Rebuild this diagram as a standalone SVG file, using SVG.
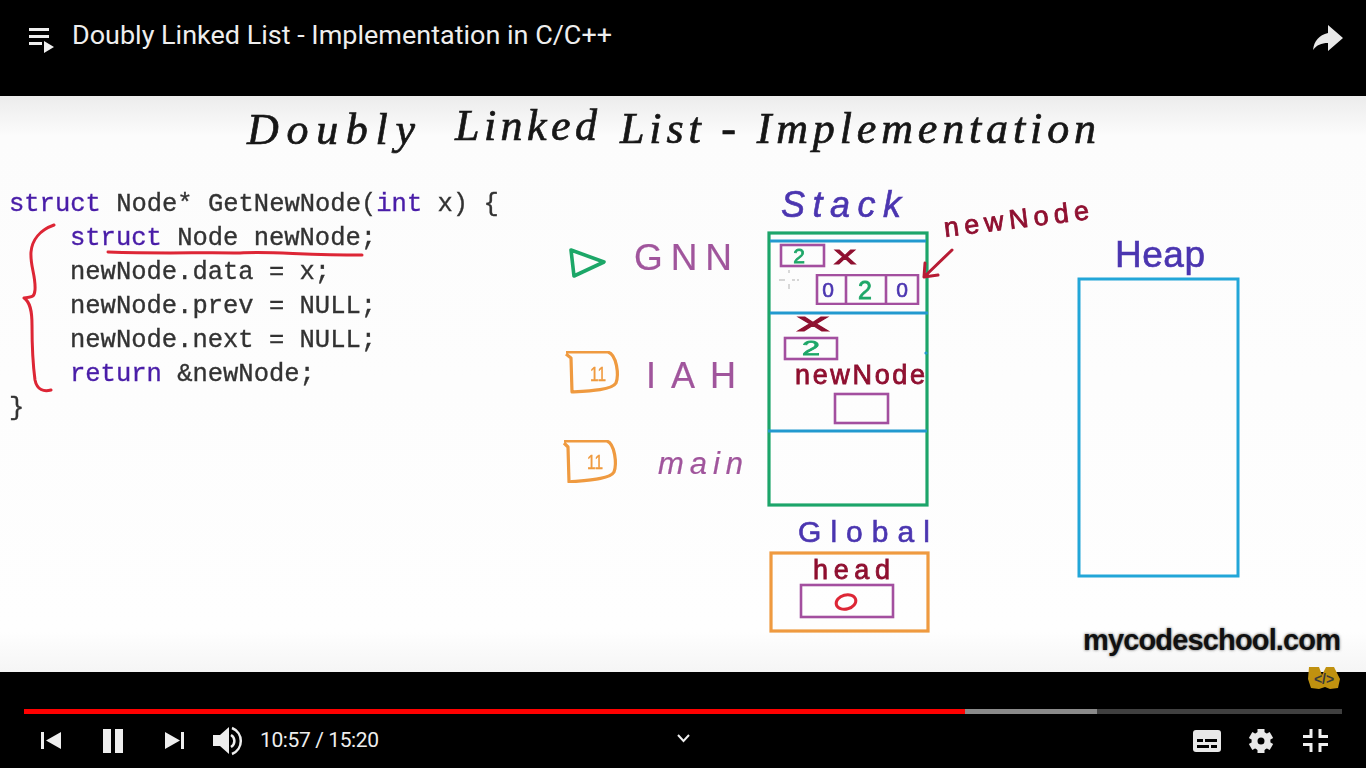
<svg xmlns="http://www.w3.org/2000/svg" width="1366" height="768" viewBox="0 0 1366 768">
<style>
.code{font-family:"Liberation Mono","DejaVu Sans Mono",monospace;font-size:25.5px;fill:#333;stroke:#333;stroke-width:.35}
.kw{fill:#4a1fa8;stroke:#4a1fa8}
.hand{font-family:"Liberation Sans",Arial,sans-serif}
.it{font-style:italic}
.title{font-family:"Liberation Serif",serif;font-style:italic;font-size:44px;fill:#161616;stroke:#161616;stroke-width:.7}
.blue{fill:#4b35b0;stroke:#4b35b0;stroke-width:.6}
.maroon{fill:#8f1230;stroke:#8f1230;stroke-width:.8}
.purple{fill:#a0559c;stroke:#a0559c;stroke-width:.2}
.grn{fill:#1fa768;stroke:#1fa768;stroke-width:.8}
.box{fill:none;stroke:#a3509f;stroke-width:2.6}
.gbox{fill:none;stroke:#1fa56b;stroke-width:3.2}
.bline{fill:none;stroke:#2299cf;stroke-width:2.8}
.obox{fill:none;stroke:#ef9a3f;stroke-width:3.2}
.red{fill:none;stroke:#dd2535;stroke-width:3;stroke-linecap:round;stroke-linejoin:round}
.ui{font-family:Roboto,"Liberation Sans",sans-serif;fill:#eee}
.ic{fill:#eee}
.video{filter:url(#vid)}
</style>
<defs>
<linearGradient id="panel" x1="0" y1="0" x2="0" y2="1">
<stop offset="0" stop-color="#ececec"/><stop offset=".07" stop-color="#fcfcfc"/><stop offset=".93" stop-color="#fefefe"/><stop offset="1" stop-color="#f5f5f5"/>
</linearGradient>
<filter id="soft" x="-5%" y="-30%" width="110%" height="160%"><feGaussianBlur stdDeviation="1.8"/></filter>
<filter id="vid" x="-2%" y="-2%" width="104%" height="104%"><feGaussianBlur stdDeviation="0.45"/></filter>
</defs>
<rect width="1366" height="768" fill="#000"/>
<rect y="96" width="1366" height="576" fill="url(#panel)"/>

<g id="player-top">
<path class="ic" d="M29 28h20v3H29zM29 35h20v3H29zM29 42h13v3H29zM44 41l10 6-10 6z"/>
<text x="72" y="44" class="ui" font-size="25.5" fill="#f4f4f4" textLength="540" lengthAdjust="spacingAndGlyphs">Doubly Linked List - Implementation in C/C++</text>
<path d="M1328 25l15 13-15 13v-8c-7 0-11 2-15 7 1-9 6-15 15-17z" fill="#e8e8e8"/>
</g>

<g id="title" class="video">
<text x="247" y="144" class="title" textLength="168" lengthAdjust="spacing">Doubly</text>
<text x="455" y="140" class="title" textLength="142" lengthAdjust="spacing">Linked</text>
<text x="620" y="143" class="title" textLength="476" lengthAdjust="spacing">List - Implementation</text>
</g>

<g id="code" class="video">
<text x="9" y="211" class="code"><tspan class="kw">struct</tspan> Node* GetNewNode(<tspan class="kw">int</tspan> x) {</text>
<text x="70" y="245" class="code"><tspan class="kw">struct</tspan> Node newNode;</text>
<text x="70" y="279" class="code">newNode.data = x;</text>
<text x="70" y="313" class="code">newNode.prev = NULL;</text>
<text x="70" y="347" class="code">newNode.next = NULL;</text>
<text x="70" y="381" class="code"><tspan class="kw">return</tspan> &amp;newNode;</text>
<text x="9" y="415" class="code">}</text>
</g>

<g id="annotations" class="video">
<path class="red" d="M54 225C40 230 32 240 31 252C30 266 36 276 35 290C34 299 31 296 24 298C30 302 32 310 32 325C32 345 33 365 35 380C37 390 44 392 51 390"/>
<path class="red" d="M108 252C170 254 200 252 240 253C270 251 300 255 362 255"/>
<path d="M789 270v3M789 284v5M779 280h6M792 280h3M797 280h2" fill="none" stroke="#c9c9c9" stroke-width="1.4"/>
</g>

<g id="frame-gnn" class="video">
<path d="M571 250L604 262L574 276Z" fill="none" stroke="#1fa768" stroke-width="3.6" stroke-linejoin="round"/>
<text x="634" y="270" class="hand purple" font-size="37" textLength="98" lengthAdjust="spacing">GNN</text>
</g>
<g id="frame-iah" class="video">
<path d="M566 352H608C617 355 619 375 616 383C612 390 590 391 572 392L571 358L566 354" fill="none" stroke="#ef9a3f" stroke-width="3.2" stroke-linejoin="round"/>
<text x="590" y="381" class="hand" font-size="20" fill="#ef9a3f" stroke="#ef9a3f" stroke-width=".4" textLength="16" lengthAdjust="spacingAndGlyphs">11</text>
<text x="646" y="388" class="hand purple" font-size="36" textLength="90" lengthAdjust="spacing">IAH</text>
</g>
<g id="frame-main" class="video">
<path d="M564 441H607C615 444 617 464 614 472C610 479 590 480 569 482L568 447L564 443" fill="none" stroke="#ef9a3f" stroke-width="3.2" stroke-linejoin="round"/>
<text x="587" y="469" class="hand" font-size="20" fill="#ef9a3f" stroke="#ef9a3f" stroke-width=".4" textLength="16" lengthAdjust="spacingAndGlyphs">11</text>
<text x="658" y="474" class="hand it purple" font-size="31" textLength="85" lengthAdjust="spacing">main</text>
</g>

<g id="stack" class="video">
<text x="781" y="217" class="hand it blue" font-size="36" textLength="120" lengthAdjust="spacing">Stack</text>
<rect class="gbox" x="769" y="233" width="158" height="272"/>
<path class="bline" d="M770 241H926M770 313H928M768 431H927"/>
<circle cx="926" cy="353" r="1.6" fill="#2299cf"/>
</g>
<g id="gnn-x" class="video">
<rect class="box" x="781" y="245" width="43" height="21"/>
<text x="799" y="263" text-anchor="middle" class="hand grn" font-size="21">2</text>
<text x="834" y="264" class="hand maroon" font-size="26" textLength="22" lengthAdjust="spacingAndGlyphs">x</text>
</g>
<g id="gnn-newnode" class="video">
<rect class="box" x="817" y="275" width="101" height="29"/>
<path class="box" d="M846 275V304M886 275V304"/>
<text x="828" y="297" text-anchor="middle" class="hand blue" font-size="21">0</text>
<text x="865" y="299" text-anchor="middle" class="hand grn" font-size="25">2</text>
<text x="902" y="297" text-anchor="middle" class="hand blue" font-size="21">0</text>
</g>
<g id="iah-x" class="video">
<text x="797" y="331" class="hand maroon" font-size="26" textLength="32" lengthAdjust="spacingAndGlyphs">x</text>
<rect class="box" x="785" y="338" width="52" height="21"/>
<text x="811" y="355" text-anchor="middle" class="hand grn" font-size="20" textLength="18" lengthAdjust="spacingAndGlyphs">2</text>
</g>
<g id="iah-newnode" class="video">
<text x="795" y="384" class="hand maroon" font-size="27" textLength="130" lengthAdjust="spacing">newNode</text>
<rect class="box" x="835" y="394" width="53" height="29"/>
</g>

<g id="newnode-pointer" class="video">
<text x="945" y="237" class="hand maroon" font-size="27" transform="rotate(-7 945 237)" textLength="146" lengthAdjust="spacing">newNode</text>
<path d="M952 250L924 277M924 277L925 263M924 277L938 275" fill="none" stroke="#b81c34" stroke-width="3" stroke-linecap="round"/>
</g>

<g id="heap" class="video">
<text x="1115" y="267" class="hand blue" font-size="37" textLength="90" lengthAdjust="spacing">Heap</text>
<rect x="1079" y="279" width="159" height="297" fill="none" stroke="#22a6d8" stroke-width="3"/>
</g>

<g id="global" class="video">
<text x="798" y="542" class="hand blue" font-size="30" textLength="132" lengthAdjust="spacing">Global</text>
<rect class="obox" x="771" y="553" width="157" height="78"/>
<text x="813" y="579" class="hand maroon" font-size="27" textLength="77" lengthAdjust="spacing">head</text>
<rect class="box" x="801" y="585" width="92" height="32"/>
<ellipse cx="846" cy="602" rx="10" ry="7" fill="none" stroke="#dd2535" stroke-width="3" transform="rotate(-15 846 602)"/>
</g>

<g id="watermark">
<text x="1083" y="650" class="hand" font-weight="bold" font-size="29" fill="#555" filter="url(#soft)" textLength="258" lengthAdjust="spacing">mycodeschool.com</text>
<text x="1083" y="650" class="hand" font-weight="bold" font-size="29" fill="#111" textLength="258" lengthAdjust="spacing">mycodeschool.com</text>
<path d="M1309 667h10l3 8 4-8h8l6 12-2 9-8 1-5-2-6 2-8-1-3-9z" fill="#c0910f"/>
<text x="1324" y="684" text-anchor="middle" class="hand" font-weight="bold" font-size="14" fill="#3a3a3a">&lt;/&gt;</text>
</g>

<g id="player-bottom">
<rect x="24" y="709" width="941" height="5" fill="#f00"/>
<rect x="965" y="709" width="132" height="5" fill="#8a8a8a"/>
<rect x="1097" y="709" width="245" height="5" fill="#404040"/>
<path class="ic" d="M41 732h3v17h-3zM61 732v17l-15-8.500z"/>
<path class="ic" d="M103 729h8v24h-8zM115 729h8v24h-8z"/>
<path class="ic" d="M165 732l15 8.500-15 8.500zM181 732h3v17h-3z"/>
<path class="ic" d="M213 735h7l9-8v27l-9-8h-7z"/>
<path d="M231 735a7 7 0 010 12M232 728a14 14 0 010 26" fill="none" stroke="#eee" stroke-width="2.500"/>
<text x="260" y="747" class="ui" font-size="21" textLength="119" lengthAdjust="spacing">10:57 / 15:20</text>
<path d="M678 735l5.500 6 5.500-6" fill="none" stroke="#eee" stroke-width="2"/>
<rect x="1193" y="730" width="28" height="22" rx="3" fill="#e8e8e8"/>
<path d="M1197 739h6v3h-6zM1205 739h12v3h-12zM1197 745h12v3h-12zM1211 745h6v3h-6z" fill="#000"/>
<g transform="translate(1261 741)">
<circle r="6.500" fill="none" stroke="#e8e8e8" stroke-width="6"/>
<path id="tooth" d="M-3.500-12h7v5h-7z" fill="#e8e8e8"/>
<path d="M-3.500-12h7v5h-7z" fill="#e8e8e8" transform="rotate(60)"/>
<path d="M-3.500-12h7v5h-7z" fill="#e8e8e8" transform="rotate(120)"/>
<path d="M-3.500-12h7v5h-7z" fill="#e8e8e8" transform="rotate(180)"/>
<path d="M-3.500-12h7v5h-7z" fill="#e8e8e8" transform="rotate(240)"/>
<path d="M-3.500-12h7v5h-7z" fill="#e8e8e8" transform="rotate(300)"/>
</g>
<path d="M1311 729v7.500h-8M1320 729v7.500h8M1311 752v-7.500h-8M1320 752v-7.500h8" fill="none" stroke="#f0f0f0" stroke-width="3"/>
</g>
</svg>
